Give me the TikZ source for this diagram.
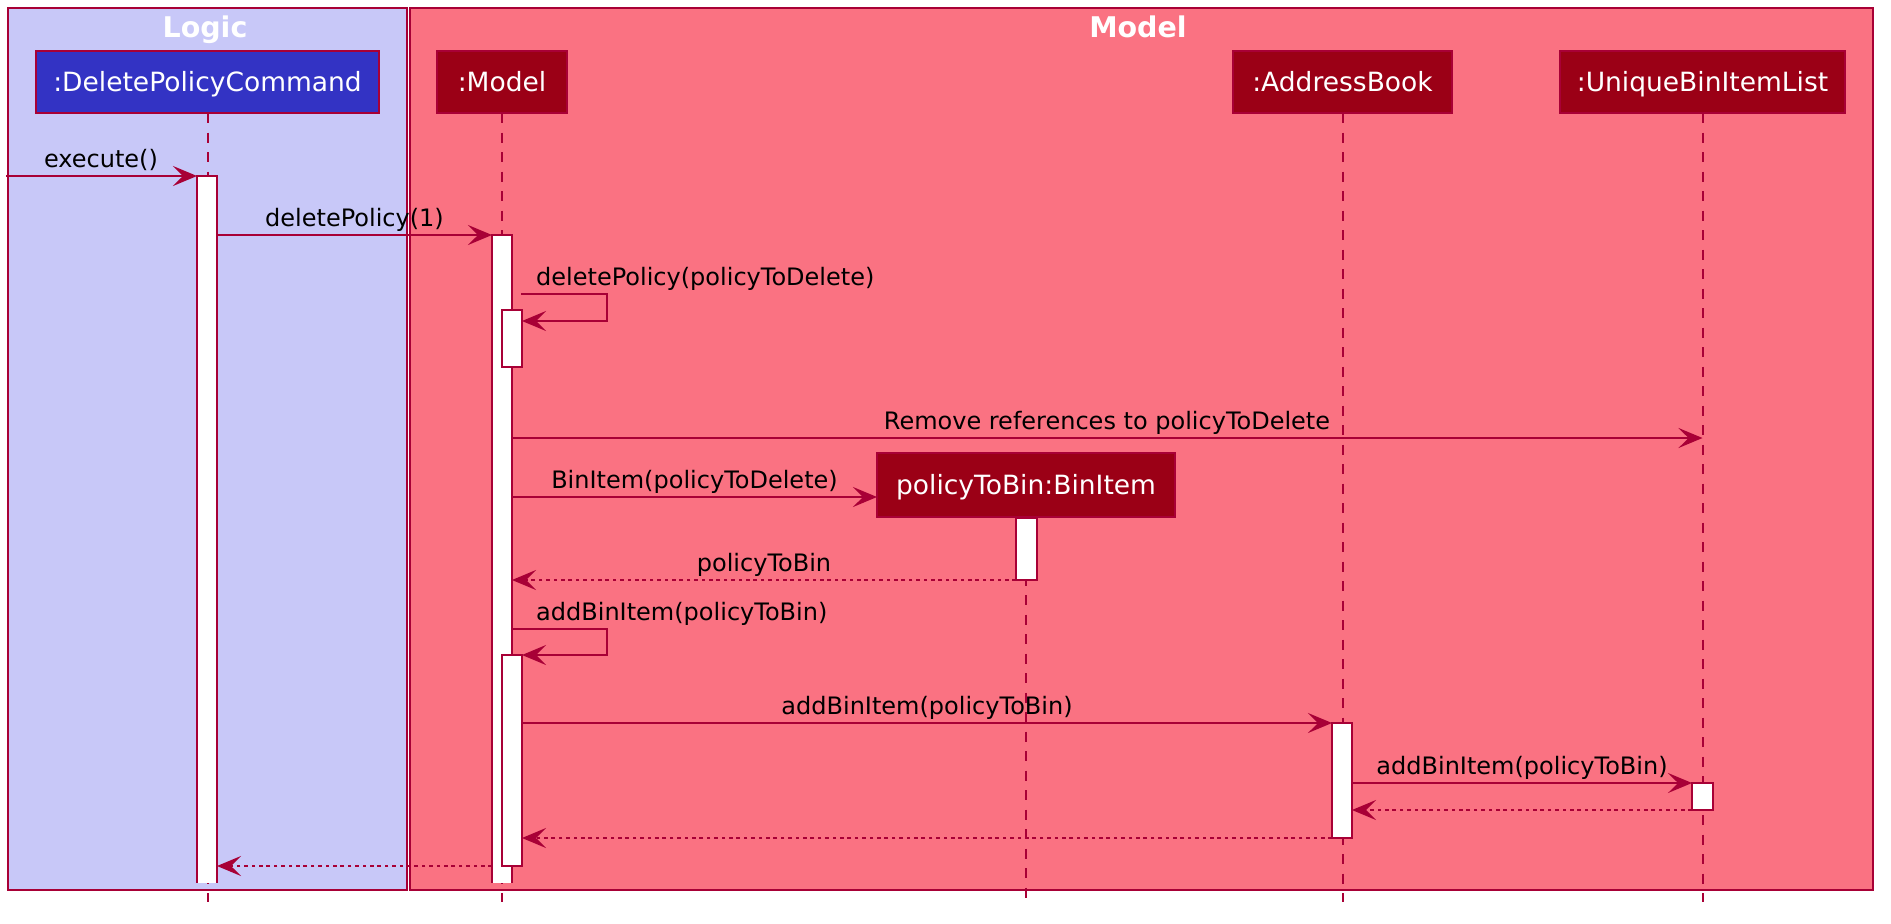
\documentclass[tikz,border=0pt]{standalone}
\usepackage{fontspec}
\setmainfont{DejaVu Sans}
\usetikzlibrary{arrows.meta,calc}
\definecolor{lc}{RGB}{168,0,54}
\definecolor{logicbg}{RGB}{200,200,248}
\definecolor{modelbg}{RGB}{250,114,130}
\definecolor{dpcfill}{RGB}{51,51,196}
\definecolor{mfill}{RGB}{155,0,22}
\begin{document}
\begin{tikzpicture}[x=1pt,y=-1pt,
  frame/.style={draw=lc,line width=1.7pt,inner sep=0pt,outer sep=0pt,anchor=north west},
  title/.style={text=white,font=\fontsize{28.5}{31}\selectfont\bfseries,anchor=base,inner sep=0pt},
  part/.style={draw=lc,line width=2.8pt,text=white,inner sep=0pt,outer sep=0pt,font=\fontsize{26.5}{30}\selectfont,text height=19pt,text depth=0pt,minimum height=62pt},
  life/.style={draw=lc,line width=2pt,dash pattern=on 10pt off 9.5pt},
  bar/.style={draw=lc,fill=white,line width=1.7pt,inner sep=0pt,outer sep=0pt,minimum width=20pt,anchor=north west},
  openbar/.style={fill=white,inner sep=0pt,outer sep=0pt,minimum width=20pt,anchor=north west},
  barside/.style={draw=lc,line width=1.7pt},
  msg/.style={draw=lc,line width=1.7pt,-{Stealth[length=24pt,width=20pt,inset=10pt]}},
  ret/.style={msg,dash pattern=on 3.7pt off 3.7pt},
  lbl/.style={font=\fontsize{24}{28}\selectfont,anchor=base,inner sep=0pt}
]
\fill[white] (0,0) rectangle (1891,924);
\useasboundingbox (0,0) rectangle (1891,924);

% frames
\node[frame,fill=logicbg,minimum width=399pt,minimum height=882pt] (logic) at (8,8) {};
\node[frame,fill=modelbg,minimum width=1463pt,minimum height=882pt] (model) at (410,8) {};
\node[title] (tl) at (205,37) {Logic};
\node[title] (tm) at (1138,37) {Model};

% participants
\node[part,fill=dpcfill,minimum width=343pt] (dpc) at (207.5,82) {:DeletePolicyCommand};
\node[part,fill=mfill,minimum width=130pt] (mdl) at (502,82) {:Model};
\node[part,fill=mfill,minimum width=219pt] (ab) at (1342.5,82) {:AddressBook};
\node[part,fill=mfill,minimum width=285pt] (ul) at (1702.5,82) {:UniqueBinItemList};
\node[part,fill=mfill,minimum width=298pt,minimum height=64pt] (bin) at (1026,485) {policyToBin:BinItem};

% lifelines
\coordinate (bot) at (0,902);
\draw[life] (dpc.south) -- (dpc.south |- bot);
\draw[life] (mdl.south) -- (mdl.south |- bot);
\draw[life] (ab.south) -- (ab.south |- bot);
\draw[life] (ul.south) -- (ul.south |- bot);
\draw[life] (bin.south) -- (bin.south |- bot);

% activation bars
\node[openbar,minimum height=707pt] (a1) at (197,176) {};
\draw[barside] (a1.south west) -- (a1.north west) -- (a1.north east) -- (a1.south east);
\node[openbar,minimum height=648pt] (a2) at (492,235) {};
\draw[barside] (a2.south west) -- (a2.north west) -- (a2.north east) -- (a2.south east);
\node[bar,minimum height=57pt] (a3) at (502,310) {};
\node[bar,minimum height=211pt] (a4) at (502,655) {};
\node[bar,minimum width=21pt,minimum height=62pt] (a5) at (1016,518) {};
\node[bar,minimum height=115pt] (a6) at (1332,723) {};
\node[bar,minimum width=21pt,minimum height=27pt] (a7) at (1692,783) {};

% messages
\coordinate (ex) at (6,176);
\draw[msg] (ex) -- (a1.north west);
\draw[msg] (a1.east |- a2.north) -- (a2.north west);
\coordinate (s1a) at (521,294);
\coordinate (s1b) at (607,321);
\draw[msg] (s1a) -| (s1b) -- (s1b -| a3.east);
\coordinate (rr) at (1702,438);
\draw[msg] (a2.east |- rr) -- (ul.south |- rr);
\coordinate (bi) at (877,497);
\draw[msg] (a2.east |- bi) -- (bin.west |- bi);
\draw[ret] (a5.south west) -- (a2.east |- a5.south west);
\coordinate (s2a) at (512,629);
\coordinate (s2b) at (607,655);
\draw[msg] (s2a) -| (s2b) -- (a4.north east);
\draw[msg] (a4.east |- a6.north) -- (a6.north west);
\draw[msg] (a6.east |- a7.north) -- (a7.north west);
\draw[ret] (a7.south west) -- (a6.east |- a7.south);
\draw[ret] (a6.south west) -- (a4.east |- a6.south);
\draw[ret] (a2.west |- a4.south) -- (a1.east |- a4.south);

% labels
\node[lbl] (t1) at (101,167) {execute()};
\node[lbl] (t2) at (354.5,226) {deletePolicy(1)};
\node[lbl,anchor=base west] (t3) at (536,285) {deletePolicy(policyToDelete)};
\node[lbl] (t4) at (1107,429) {Remove references to policyToDelete};
\node[lbl] (t5) at (694.5,488) {BinItem(policyToDelete)};
\node[lbl] (t6) at (764,571) {policyToBin};
\node[lbl,anchor=base west] (t7) at (536,620) {addBinItem(policyToBin)};
\node[lbl] (t8) at (927,714) {addBinItem(policyToBin)};
\node[lbl] (t9) at (1522,774) {addBinItem(policyToBin)};
\end{tikzpicture}
\end{document}
